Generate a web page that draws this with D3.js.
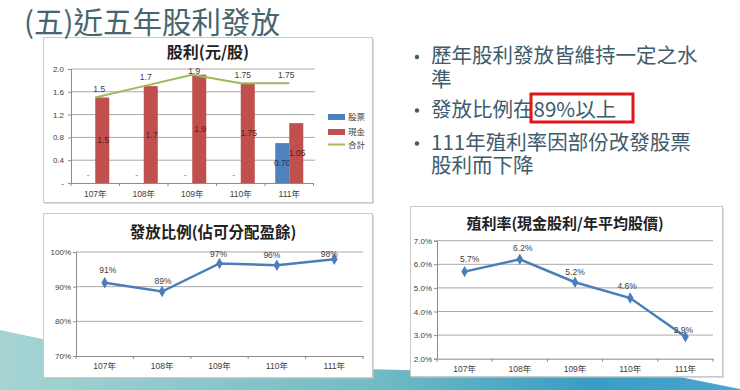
<!DOCTYPE html>
<html><head><meta charset="utf-8">
<script src="https://cdn.jsdelivr.net/npm/d3@7/dist/d3.min.js"></script>
<style>
html,body{margin:0;padding:0;background:#fff;}
svg{display:block;}
</style></head>
<body>
<svg id="c" width="740" height="390"></svg>
<script>
const years = ["107年","108年","109年","110年","111年"];
const stockDiv = [0, 0, 0, 0, 0.70];
const cashDiv = [1.5, 1.7, 1.9, 1.75, 1.05];
const totalDiv = [1.5, 1.7, 1.9, 1.75, 1.75];
const divTicks = [0, 0.4, 0.8, 1.2, 1.6, 2.0];
const payoutRatio = [91.1, 88.6, 96.7, 96.2, 97.9];
const payoutTicks = [70, 80, 90, 100];
const yieldRate = [5.69, 6.21, 5.24, 4.57, 2.93];
const yieldTicks = [2, 3, 4, 5, 6, 7];
const seriesNames = ["股票", "現金", "合計"];
const bullets = [["歷年股利發放皆維持一定之水", "準"], ["發放比例在89%以上"], ["111年殖利率因部份改發股票", "股利而下降"]];

const svg = d3.select("#c");
const CJK = "'Noto Sans CJK TC','Noto Sans CJK SC',sans-serif";
const NUM = "'Liberation Sans',Arial,'Noto Sans CJK TC',sans-serif";
const TXT = "#404040", GRID = "#a9a9a9", AX = "#8c8c8c";
const BLUE = "#4a7ebb", RED = "#c0504d", GREEN = "#9bbb59", LBLUE = "#4f81bd";

// background decoration
const defs = svg.append("defs");
const g1 = defs.append("linearGradient").attr("id", "bg1").attr("x1", "0").attr("x2", "1").attr("y1", "0").attr("y2", "0");
g1.append("stop").attr("offset", "0").attr("stop-color", "#a6d4d3");
g1.append("stop").attr("offset", "0.5").attr("stop-color", "#72bcc4");
g1.append("stop").attr("offset", "0.8").attr("stop-color", "#3a9cc4");
g1.append("stop").attr("offset", "1").attr("stop-color", "#4aa6d0");
svg.append("path").attr("fill", "url(#bg1)")
  .attr("d", "M0,330 L160,364 L680,377 L740,389 L740,390 L0,390 Z");

// panels
function panel(x, y, w, h) {
  svg.append("rect").attr("x", x + 1.5).attr("y", y + 1.5).attr("width", w).attr("height", h).attr("fill", "#b8c4c8").attr("opacity", 0.6);
  svg.append("rect").attr("x", x).attr("y", y).attr("width", w).attr("height", h).attr("fill", "#fff").attr("stroke", "#c9c9c9").attr("stroke-width", 1);
}
panel(43.5, 37.5, 329, 165);
panel(43.5, 213.5, 329, 164);
panel(410.5, 206.5, 312, 170);

// slide title
svg.append("text").attr("x", 24).attr("y", 33).attr("font-family", CJK).attr("font-size", 29.5)
  .attr("fill", "#46656f").text("(五)近五年股利發放");

// bullets
let by = 63;
bullets.forEach((lines, i) => {
  svg.append("circle").attr("cx", 417).attr("cy", by - 6).attr("r", 2.2).attr("fill", "#3e5b6b");
  const t = svg.append("text").attr("font-family", CJK).attr("font-size", 20.5).attr("fill", "#3e5b6b");
  lines.forEach((ln, j) => {
    t.append("tspan").attr("x", 431).attr("y", by + j * 23.5).text(ln);
  });
  by += lines.length * 23.5 + (i === 0 ? 6.5 : 9.5);
});
svg.append("rect").attr("x", 531).attr("y", 94).attr("width", 102).attr("height", 28)
  .attr("fill", "none").attr("stroke", "#e0161b").attr("stroke-width", 3);

// ---------- Chart 1: dividends ----------
(function () {
  const x = d3.scaleBand().domain(years).range([71, 313.5]);
  const y = d3.scaleLinear().domain([0, 2]).range([183, 69]);
  const sub = d3.scaleBand().domain(["stock", "cash"]).range([0, x.bandwidth()]).paddingOuter(0.73);
  const g = svg.append("g");
  g.append("text").attr("x", 208).attr("y", 58).attr("text-anchor", "middle").attr("font-family", CJK)
    .attr("font-size", 16).attr("font-weight", 700).attr("fill", "#222").text("股利(元/股)");
  g.selectAll(".gr").data(divTicks.filter(d => d > 0)).join("line")
    .attr("x1", 71).attr("x2", 315).attr("y1", d => y(d)).attr("y2", d => y(d)).attr("stroke", GRID);
  const ya = g.append("g").attr("transform", "translate(71,0)")
    .call(d3.axisLeft(y).tickValues(divTicks).tickSize(3).tickFormat(d => d === 0 ? "-" : d3.format(".1f")(d)));
  ya.select(".domain").attr("stroke", AX);
  ya.selectAll(".tick line").attr("stroke", AX);
  ya.selectAll(".tick text").attr("font-family", NUM).attr("font-size", 8).attr("fill", TXT).attr("x", -7);
  const xa = g.append("g").attr("transform", "translate(0,183)")
    .call(d3.axisBottom(x).tickSize(0).tickFormat(d => d));
  xa.select(".domain").attr("stroke", AX);
  xa.selectAll(".tick text").attr("font-family", NUM).attr("font-size", 8.5).attr("fill", TXT).attr("dy", "1.25em");
  g.selectAll(".xt").data(years.concat(["end"])).join("line")
    .attr("x1", (d, i) => 71 + i * x.step()).attr("x2", (d, i) => 71 + i * x.step())
    .attr("y1", 183).attr("y2", 186).attr("stroke", AX);
  years.forEach((yr, i) => {
    const xs = x(yr) + sub("stock"), xc = x(yr) + sub("cash"), w = sub.bandwidth();
    if (stockDiv[i] > 0) {
      g.append("rect").attr("x", xs).attr("y", y(stockDiv[i])).attr("width", w).attr("height", y(0) - y(stockDiv[i])).attr("fill", LBLUE);
    }
    g.append("text").attr("x", xs + w / 2).attr("y", stockDiv[i] > 0 ? (y(stockDiv[i]) + y(0)) / 2 + 3 : y(0) - 5)
      .attr("text-anchor", "middle").attr("font-family", NUM).attr("font-size", 8.5).attr("fill", stockDiv[i] > 0 ? "#1f2f4f" : "#888")
      .text(stockDiv[i] > 0 ? d3.format(".2f")(stockDiv[i]) : "-");
    g.append("rect").attr("x", xc).attr("y", y(cashDiv[i])).attr("width", w).attr("height", y(0) - y(cashDiv[i])).attr("fill", RED);
    g.append("text").attr("x", xc + w / 2 + 1).attr("y", (y(cashDiv[i]) + y(0)) / 2 + 3)
      .attr("text-anchor", "middle").attr("font-family", NUM).attr("font-size", 8.5).attr("fill", "#5a1a18").text(String(cashDiv[i]));
  });
  const line = d3.line().x((d, i) => x(years[i]) + x.bandwidth() / 2).y(d => y(d));
  g.append("path").datum(totalDiv).attr("d", line).attr("fill", "none").attr("stroke", GREEN).attr("stroke-width", 2);
  totalDiv.forEach((v, i) => {
    g.append("text").attr("x", x(years[i]) + x.bandwidth() / 2 + (i === 0 ? 4 : i === 4 ? -3 : 2)).attr("y", y(v) - (i === 2 ? 1 : i >= 3 ? 5 : 6))
      .attr("text-anchor", "middle").attr("font-family", NUM).attr("font-size", 8.5).attr("fill", TXT).text(String(v));
  });
  const lg = g.append("g").attr("transform", "translate(328,0)");
  seriesNames.forEach((n, i) => {
    const cy = [117, 132, 144.5][i];
    if (i < 2) lg.append("rect").attr("x", 0).attr("y", cy - 3).attr("width", 17).attr("height", 6).attr("fill", i === 0 ? LBLUE : RED);
    else lg.append("line").attr("x1", 0).attr("x2", 17).attr("y1", cy).attr("y2", cy).attr("stroke", GREEN).attr("stroke-width", 2);
    lg.append("text").attr("x", 20).attr("y", cy + 3).attr("font-family", CJK).attr("font-size", 8.5).attr("fill", TXT).text(n);
  });
})();

// ---------- line chart helper ----------
function lineChart(o) {
  const x = d3.scaleBand().domain(years).range([o.x0, o.x1]);
  const y = d3.scaleLinear().domain(o.dom).range([o.yb, o.yt]);
  const g = svg.append("g");
  g.append("text").attr("x", o.tx).attr("y", o.ty).attr("text-anchor", "middle").attr("font-family", CJK)
    .attr("font-size", o.tfs).attr("font-weight", 700).attr("fill", "#222").text(o.title);
  g.selectAll(".gr").data(o.ticks.slice(1)).join("line")
    .attr("x1", o.x0).attr("x2", o.x1).attr("y1", d => y(d)).attr("y2", d => y(d)).attr("stroke", GRID);
  const ya = g.append("g").attr("transform", `translate(${o.x0},0)`)
    .call(d3.axisLeft(y).tickValues(o.ticks).tickSize(3).tickFormat(o.fmt));
  ya.select(".domain").attr("stroke", AX);
  ya.selectAll(".tick line").attr("stroke", AX);
  ya.selectAll(".tick text").attr("font-family", NUM).attr("font-size", 8).attr("fill", TXT).attr("x", -5);
  const xa = g.append("g").attr("transform", `translate(0,${o.yb})`)
    .call(d3.axisBottom(x).tickSize(0));
  xa.select(".domain").attr("stroke", AX);
  xa.selectAll(".tick text").attr("font-family", NUM).attr("font-size", 8.5).attr("fill", TXT).attr("dy", "1.2em");
  g.selectAll(".xt").data(years.concat(["end"])).join("line")
    .attr("x1", (d, i) => o.x0 + i * x.step()).attr("x2", (d, i) => o.x0 + i * x.step())
    .attr("y1", o.yb).attr("y2", o.yb + 3).attr("stroke", AX);
  const cx = i => x(years[i]) + x.bandwidth() / 2;
  g.append("path").datum(o.data).attr("d", d3.line().x((d, i) => cx(i)).y(d => y(d)))
    .attr("fill", "none").attr("stroke", BLUE).attr("stroke-width", 2.5);
  g.selectAll(".mk").data(o.data).join("path")
    .attr("transform", (d, i) => `translate(${cx(i)},${y(d)})`)
    .attr("d", d3.symbol(d3.symbolDiamond, 38)).attr("fill", BLUE);
  o.data.forEach((v, i) => {
    g.append("text").attr("x", cx(i) + o.ldx[i]).attr("y", Math.max(y(v) - o.ldy[i], o.yt + 5))
      .attr("text-anchor", "middle").attr("font-family", NUM).attr("font-size", 8.5).attr("fill", TXT).text(o.lfmt(v));
  });
}

lineChart({
  title: "發放比例(佔可分配盈餘)", tx: 213, ty: 238, tfs: 15.5,
  x0: 76, x1: 363, yb: 356, yt: 252, dom: [70, 100], ticks: payoutTicks,
  fmt: d => d + "%", data: payoutRatio, lfmt: v => d3.format(".0f")(v) + "%",
  ldx: [3, 1, -1, -5, -5], ldy: [10, 8, 6, 7, 6]
});
lineChart({
  title: "殖利率(現金股利/年平均股價)", tx: 565, ty: 229, tfs: 15,
  x0: 437, x1: 713, yb: 358.7, yt: 240.7, dom: [2, 7], ticks: yieldTicks,
  fmt: d => d3.format(".1f")(d) + "%", data: yieldRate, lfmt: v => d3.format(".1f")(v) + "%",
  ldx: [5, 3, 0, -3, -2], ldy: [10, 8, 7, 9, 4]
});
</script>
</body></html>
